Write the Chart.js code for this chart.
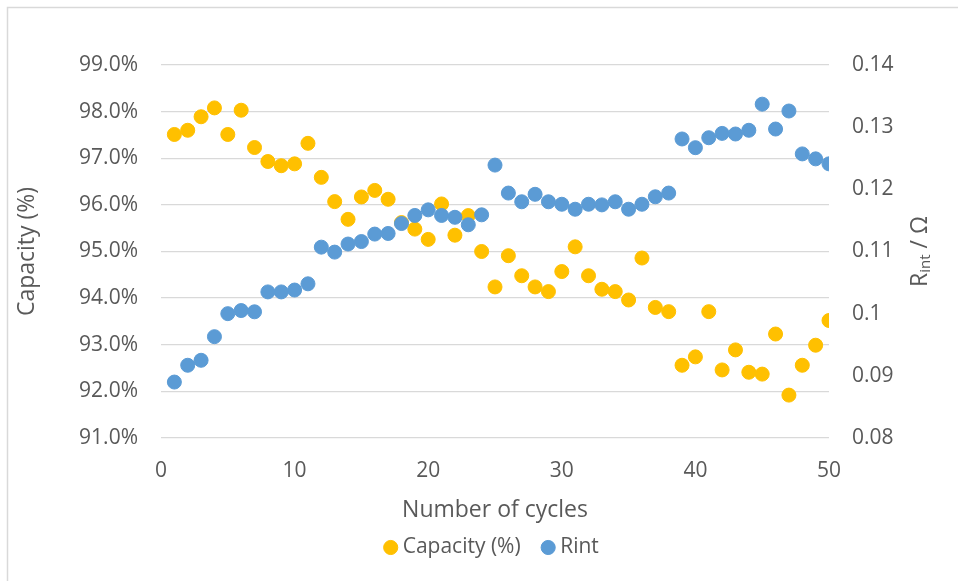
<!DOCTYPE html>
<html>
<head>
<meta charset="utf-8">
<style>
  html, body { margin: 0; padding: 0; background: #ffffff; }
  #wrap { position: relative; width: 958px; height: 581px; }
</style>
<script src="https://cdn.jsdelivr.net/npm/chart.js@4/dist/chart.umd.min.js"></script>
</head>
<body>
<div id="wrap"><canvas id="chart" width="958" height="581"></canvas></div>
<script>
// Cycle number of each measurement
const cycles = [1, 2, 3, 4, 5, 6, 7, 8, 9, 10,
  11, 12, 13, 14, 15, 16, 17, 18, 19, 20,
  21, 22, 23, 24, 25, 26, 27, 28, 29, 30,
  31, 32, 33, 34, 35, 36, 37, 38, 39, 40,
  41, 42, 43, 44, 45, 46, 47, 48, 49, 50];

// Remaining capacity, percent of initial
const capacity = [97.51, 97.60, 97.89, 98.08, 97.51, 98.03, 97.23, 96.93, 96.84, 96.88,
  97.32, 96.59, 96.07, 95.69, 96.17, 96.31, 96.12, 95.62, 95.48, 95.26,
  96.02, 95.35, 95.77, 95.00, 94.24, 94.91, 94.48, 94.24, 94.14, 94.57,
  95.10, 94.48, 94.19, 94.14, 93.96, 94.86, 93.80, 93.71, 92.56, 92.74,
  93.71, 92.46, 92.89, 92.41, 92.37, 93.23, 91.92, 92.56, 92.99, 93.52];

// Internal resistance, ohm
const rint = [0.0890, 0.0917, 0.0925, 0.0963, 0.1000, 0.1005, 0.1003, 0.1035, 0.1035, 0.1038,
  0.1048, 0.1107, 0.1099, 0.1112, 0.1116, 0.1128, 0.1129, 0.1145, 0.1158, 0.1167,
  0.1158, 0.1155, 0.1143, 0.1159, 0.1239, 0.1194, 0.1180, 0.1192, 0.1180, 0.1176,
  0.1168, 0.1176, 0.1175, 0.1180, 0.1168, 0.1176, 0.1188, 0.1194, 0.1281, 0.1267,
  0.1283, 0.1290, 0.1289, 0.1295, 0.1337, 0.1297, 0.1326, 0.1257, 0.1249, 0.1241];

// Axis tick values
const xTicks = [0, 10, 20, 30, 40, 50];
const capacityTicks = [91, 92, 93, 94, 95, 96, 97, 98, 99];
const rintTicks = [0.08, 0.09, 0.10, 0.11, 0.12, 0.13, 0.14];

const TEXT = '#595959';
const GRID = '#d9d9d9';
const FONT = "'Open Sans', 'DejaVu Sans', sans-serif";

const toPoints = (ys) => cycles.map((c, i) => ({ x: c, y: ys[i] }));
const fixTicks = (values) => (scale) => { scale.ticks = values.map(v => ({ value: v })); };

// White background and the frame line along the top and left
const framePlugin = {
  id: 'frame',
  beforeDraw(chart) {
    const ctx = chart.ctx;
    ctx.save();
    ctx.fillStyle = '#ffffff';
    ctx.fillRect(0, 0, chart.width, chart.height);
    ctx.strokeStyle = GRID;
    ctx.lineWidth = 1.5;
    ctx.beginPath();
    ctx.moveTo(7.5, chart.height);
    ctx.lineTo(7.5, 7.5);
    ctx.lineTo(chart.width, 7.5);
    ctx.stroke();
    ctx.restore();
  }
};

// Nudge the legend a little right and down from its default box
const legendShiftPlugin = {
  id: 'legendShift',
  afterLayout(chart) {
    const lg = chart.legend;
    if (!lg) return;
    lg.left += 15; lg.right += 15;
    lg.top += 3; lg.bottom += 3;
  }
};

// Right axis title with a subscript: R_int / Ω, reading bottom to top
const rintTitlePlugin = {
  id: 'rintTitle',
  afterDraw(chart) {
    const ctx = chart.ctx;
    const area = chart.chartArea;
    const big = "23px " + FONT;
    const small = "15px " + FONT;
    ctx.save();
    ctx.fillStyle = TEXT;
    ctx.textBaseline = 'alphabetic';
    ctx.textAlign = 'left';
    ctx.font = big;
    const wR = ctx.measureText('R').width;
    const wRest = ctx.measureText(' / \u03A9').width;
    ctx.font = small;
    const wSub = ctx.measureText('int').width;
    const total = wR + wSub + wRest;
    ctx.translate(910, (area.top + area.bottom) / 2);
    ctx.rotate(-Math.PI / 2);
    let x = -total / 2;
    ctx.font = big;
    ctx.fillText('R', x, 17);
    x += wR;
    ctx.font = small;
    ctx.fillText('int', x, 20);
    x += wSub;
    ctx.font = big;
    ctx.fillText(' / \u03A9', x, 17);
    ctx.restore();
  }
};

new Chart(document.getElementById('chart'), {
  type: 'scatter',
  data: {
    datasets: [
      {
        label: 'Capacity (%)',
        data: toPoints(capacity),
        yAxisID: 'y',
        order: 1,
        backgroundColor: '#FFC000',
        borderColor: '#FFC000',
        borderWidth: 1,
        pointRadius: 7,
        pointHoverRadius: 7
      },
      {
        label: 'Rint',
        data: toPoints(rint),
        yAxisID: 'y1',
        order: 0,
        backgroundColor: '#5B9BD5',
        borderColor: '#5B9BD5',
        borderWidth: 1,
        pointRadius: 7,
        pointHoverRadius: 7
      }
    ]
  },
  options: {
    responsive: false,
    animation: false,
    events: [],
    layout: { padding: { top: 65, left: 0, right: 0, bottom: 16 } },
    plugins: {
      tooltip: { enabled: false },
      legend: {
        position: 'bottom',
        align: 'center',
        labels: {
          usePointStyle: true,
          pointStyle: 'circle',
          boxWidth: 3,
          boxHeight: 10,
          padding: 26,
          color: TEXT,
          font: { family: FONT, size: 21 },
          sort: (a, b) => a.datasetIndex - b.datasetIndex
        }
      }
    },
    scales: {
      x: {
        type: 'linear',
        position: 'bottom',
        min: 0,
        max: 50,
        afterBuildTicks: fixTicks(xTicks),
        afterFit: (scale) => { scale.height = 70; },
        grid: { display: false, drawTicks: false },
        border: { display: false },
        ticks: { color: TEXT, font: { family: FONT, size: 21 }, padding: 20 },
        title: {
          display: true,
          text: 'Number of cycles',
          color: TEXT,
          font: { family: FONT, size: 23 },
          padding: { top: 0, bottom: -16 }
        }
      },
      y: {
        type: 'linear',
        position: 'left',
        min: 91,
        max: 99,
        afterBuildTicks: fixTicks(capacityTicks),
        afterFit: (scale) => { scale.width = 161; },
        grid: { color: GRID, lineWidth: 1.3, drawTicks: false },
        border: { display: false },
        ticks: {
          color: TEXT,
          font: { family: FONT, size: 21 },
          padding: 23,
          callback: (v) => Number(v).toFixed(1) + '%'
        },
        title: {
          display: true,
          text: 'Capacity (%)',
          color: TEXT,
          font: { family: FONT, size: 23 },
          padding: { top: 14, bottom: 0 }
        }
      },
      y1: {
        type: 'linear',
        position: 'right',
        min: 0.08,
        max: 0.14,
        afterBuildTicks: fixTicks(rintTicks),
        afterFit: (scale) => { scale.width = 129; },
        grid: { display: false, drawTicks: false },
        border: { display: false },
        ticks: {
          color: TEXT,
          font: { family: FONT, size: 21 },
          padding: 23,
          callback: (v) => String(Number(Number(v).toFixed(2)))
        }
      }
    }
  },
  plugins: [framePlugin, legendShiftPlugin, rintTitlePlugin]
});
</script>
</body>
</html>
